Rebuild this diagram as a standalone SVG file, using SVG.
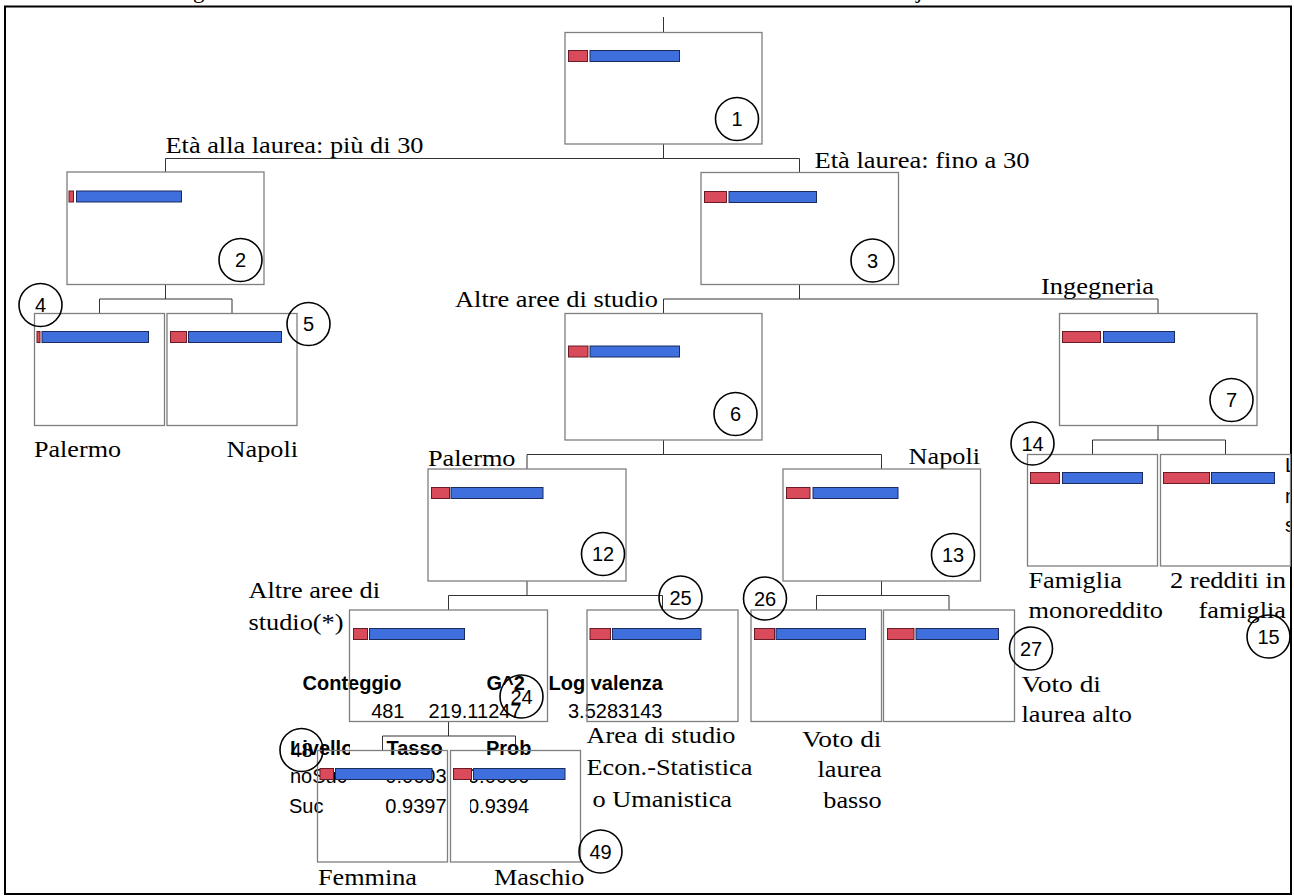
<svg xmlns="http://www.w3.org/2000/svg" width="1294" height="896" viewBox="0 0 1294 896">
<defs>
<style>
.box{fill:none;stroke:#7f7f7f;stroke-width:1.3}
.r{fill:#d94a5a;stroke:#6a1c26;stroke-width:1}
.b{fill:#3f6fdc;stroke:#1b2c5c;stroke-width:1}
.c{fill:none;stroke:#000;stroke-width:1.6}
.cn{font-family:"Liberation Sans",Arial,sans-serif;font-size:20px;text-anchor:middle;fill:#000}
.t{font-family:"Liberation Serif","Times New Roman",serif;font-size:23px;fill:#000}
.th{font-family:"Liberation Sans",Arial,sans-serif;font-size:20px;font-weight:bold;fill:#000}
.tv{font-family:"Liberation Sans",Arial,sans-serif;font-size:20px;fill:#000}
.conn path{fill:none;stroke:#333;stroke-width:1}
</style>
<clipPath id="col1"><rect x="280" y="730" width="70" height="100"/></clipPath>
<clipPath id="col3"><rect x="470" y="730" width="61" height="100"/></clipPath>
<clipPath id="edge"><rect x="1280" y="440" width="10" height="110"/></clipPath>
</defs>
<rect width="1294" height="896" fill="#fff"/>
<text class="t" x="193" y="-2">g</text>
<text class="t" x="916" y="-2">j</text>
<rect x="5" y="6.5" width="1286" height="887.5" fill="none" stroke="#000" stroke-width="2"/>

<g id="connectors" class="conn">
<path d="M663.5,17V32.5"/>
<path d="M663.5,144V158.5M165.5,172V158.5H799.5V172.5"/>
<path d="M165.5,284.5V299M99.5,313.5V299H232V313.5"/>
<path d="M799.5,284.5V299M663.5,313.5V299H1158V313.5"/>
<path d="M663.5,440V454.5M527,469V454.5H881.5V469"/>
<path d="M1158,425.5V440M1092.5,454.5V440H1225.5V454.5"/>
<path d="M527,581V595.5M448.5,610V595.5H662.5V610"/>
<path d="M881.5,581V595.5M816.5,610V595.5H949V610"/>
<path d="M448.5,721.5V736M382.5,750.5V736H515.5V750.5"/>
</g>

<g id="labels">
<text class="t" x="165.5" y="153" textLength="258" lengthAdjust="spacingAndGlyphs">Età alla laurea: più di 30</text>
<text class="t" x="814.5" y="167.5" textLength="215" lengthAdjust="spacingAndGlyphs">Età laurea: fino a 30</text>
<text class="t" x="455" y="307" textLength="203" lengthAdjust="spacingAndGlyphs">Altre aree di studio</text>
<text class="t" x="1041" y="294" textLength="113" lengthAdjust="spacingAndGlyphs">Ingegneria</text>
<text class="t" x="34" y="457" textLength="87" lengthAdjust="spacingAndGlyphs">Palermo</text>
<text class="t" x="226.5" y="457" textLength="71.5" lengthAdjust="spacingAndGlyphs">Napoli</text>
<text class="t" x="428" y="466" textLength="87.5" lengthAdjust="spacingAndGlyphs">Palermo</text>
<text class="t" x="908.5" y="464" textLength="71.5" lengthAdjust="spacingAndGlyphs">Napoli</text>
<text class="t" x="1028.5" y="588" textLength="93.5" lengthAdjust="spacingAndGlyphs">Famiglia</text>
<text class="t" x="1028.5" y="618" textLength="134.5" lengthAdjust="spacingAndGlyphs">monoreddito</text>
<text class="t" x="1170" y="588" textLength="116" lengthAdjust="spacingAndGlyphs">2 redditi in</text>
<text class="t" x="1198.5" y="618" textLength="87.5" lengthAdjust="spacingAndGlyphs">famiglia</text>
<text class="t" x="248.5" y="598" textLength="131.5" lengthAdjust="spacingAndGlyphs">Altre aree di</text>
<text class="t" x="248.5" y="630" textLength="95" lengthAdjust="spacingAndGlyphs">studio(*)</text>
<text class="t" x="586.5" y="743" textLength="149" lengthAdjust="spacingAndGlyphs">Area di studio</text>
<text class="t" x="586.5" y="775" textLength="166" lengthAdjust="spacingAndGlyphs">Econ.-Statistica</text>
<text class="t" x="592.5" y="806.5" textLength="139.5" lengthAdjust="spacingAndGlyphs">o Umanistica</text>
<text class="t" x="802" y="746.5" textLength="79.5" lengthAdjust="spacingAndGlyphs">Voto di</text>
<text class="t" x="817.5" y="776.5" textLength="64.3" lengthAdjust="spacingAndGlyphs">laurea</text>
<text class="t" x="823.3" y="807.5" textLength="58.4" lengthAdjust="spacingAndGlyphs">basso</text>
<text class="t" x="1021.5" y="691.5" textLength="79.5" lengthAdjust="spacingAndGlyphs">Voto di</text>
<text class="t" x="1021.5" y="721.5" textLength="110.3" lengthAdjust="spacingAndGlyphs">laurea alto</text>
<text class="t" x="318" y="885" textLength="99" lengthAdjust="spacingAndGlyphs">Femmina</text>
<text class="t" x="494" y="885" textLength="90.5" lengthAdjust="spacingAndGlyphs">Maschio</text>
<g clip-path="url(#edge)">
<text class="tv" x="1285" y="472">L</text>
<text class="tv" x="1285" y="503">n</text>
<text class="tv" x="1285" y="532">s</text>
</g>
</g>

<g id="table">
<text class="th" x="302.5" y="690">Conteggio</text>
<text class="th" x="486.5" y="690">G^2</text>
<text class="th" x="548.5" y="690">Log valenza</text>
<text class="tv" x="404.5" y="718" text-anchor="end">481</text>
<text class="tv" x="521.5" y="718" text-anchor="end">219.11247</text>
<text class="tv" x="662.5" y="718" text-anchor="end">3.5283143</text>
<g clip-path="url(#col1)">
<text class="th" x="290" y="755">Livello</text>
<text class="tv" x="290" y="783">noSuc</text>
<text class="tv" x="289" y="813">Suc</text>
</g>
<text class="th" x="386.5" y="755">Tasso</text>
<text class="tv" x="446.5" y="783" text-anchor="end">0.0603</text>
<text class="tv" x="446.5" y="813" text-anchor="end">0.9397</text>
<g clip-path="url(#col3)">
<text class="th" x="486" y="755">Prob</text>
<text class="tv" x="468" y="783">0.0606</text>
<text class="tv" x="468" y="813">0.9394</text>
</g>
</g>

<g id="n1"><rect class="box" x="565" y="32.5" width="197" height="111.5"/><rect class="r" x="568.5" y="50.5" width="19" height="11"/><rect class="b" x="590" y="50.5" width="89.5" height="11"/><circle class="c" cx="737" cy="119" r="21.5"/><text class="cn" x="737" y="126">1</text></g>
<g id="n2"><rect class="box" x="67" y="172" width="197" height="112.5"/><rect class="r" x="69" y="191" width="4.5" height="11"/><rect class="b" x="76.5" y="191" width="105" height="11"/><circle class="c" cx="240.5" cy="260" r="21.5"/><text class="cn" x="240.5" y="267">2</text></g>
<g id="n3"><rect class="box" x="701" y="172.5" width="197.5" height="112"/><rect class="r" x="704.5" y="191.5" width="22" height="11"/><rect class="b" x="729" y="191.5" width="87.5" height="11"/><circle class="c" cx="872.5" cy="260.5" r="21.5"/><text class="cn" x="872.5" y="267.5">3</text></g>
<g id="n4"><rect class="box" x="34.5" y="313.5" width="130" height="112"/><rect class="r" x="37" y="331.5" width="3" height="11"/><rect class="b" x="42" y="331.5" width="106.5" height="11"/><circle class="c" cx="40.5" cy="305" r="21.5"/><text class="cn" x="40.5" y="312">4</text></g>
<g id="n5"><rect class="box" x="167" y="313.5" width="130" height="112"/><rect class="r" x="170.5" y="331.5" width="16" height="11"/><rect class="b" x="188.5" y="331.5" width="93" height="11"/><circle class="c" cx="308.5" cy="324" r="21.5"/><text class="cn" x="308.5" y="331">5</text></g>
<g id="n6"><rect class="box" x="565" y="313.5" width="197" height="126.5"/><rect class="r" x="568.5" y="346" width="19.5" height="11"/><rect class="b" x="590" y="346" width="89.5" height="11"/><circle class="c" cx="735.5" cy="414" r="21.5"/><text class="cn" x="735.5" y="421">6</text></g>
<g id="n7"><rect class="box" x="1059.5" y="313.5" width="197.5" height="112"/><rect class="r" x="1062.5" y="331.5" width="38" height="11"/><rect class="b" x="1103.5" y="331.5" width="71" height="11"/><circle class="c" cx="1231.5" cy="400" r="21.5"/><text class="cn" x="1231.5" y="407">7</text></g>
<g id="n12"><rect class="box" x="428" y="469" width="198" height="112"/><rect class="r" x="431.5" y="487.5" width="18" height="11"/><rect class="b" x="451" y="487.5" width="92" height="11"/><circle class="c" cx="603" cy="554" r="21.5"/><text class="cn" x="603" y="561">12</text></g>
<g id="n13"><rect class="box" x="783" y="469" width="197.5" height="112"/><rect class="r" x="786.5" y="487.5" width="23.5" height="11"/><rect class="b" x="813" y="487.5" width="85" height="11"/><circle class="c" cx="953" cy="555" r="21.5"/><text class="cn" x="953" y="562">13</text></g>
<g id="n14"><rect class="box" x="1027.5" y="454.5" width="130" height="111.5"/><rect class="r" x="1030.5" y="472.5" width="29" height="11"/><rect class="b" x="1062.5" y="472.5" width="80" height="11"/><circle class="c" cx="1032.5" cy="443.5" r="21.5"/><text class="cn" x="1032.5" y="450.5">14</text></g>
<g id="n15"><rect class="box" x="1160.5" y="454.5" width="130" height="111.5"/><rect class="r" x="1163.5" y="472.5" width="46" height="11"/><rect class="b" x="1211.5" y="472.5" width="63" height="11"/><circle class="c" cx="1268.5" cy="636.5" r="21.5"/><text class="cn" x="1268.5" y="643.5">15</text></g>
<g id="n24"><rect class="box" x="349.5" y="610" width="198" height="111.5"/><rect class="r" x="353.5" y="628.5" width="14" height="11"/><rect class="b" x="369.5" y="628.5" width="95" height="11"/><circle class="c" cx="521.5" cy="696.5" r="21.5"/><text class="cn" x="521.5" y="703.5">24</text></g>
<g id="n25"><rect class="box" x="587" y="610" width="151" height="111.5"/><rect class="r" x="590" y="628.5" width="20.5" height="11"/><rect class="b" x="612.5" y="628.5" width="88.5" height="11"/><circle class="c" cx="680.5" cy="597.5" r="21.5"/><text class="cn" x="680.5" y="604.5">25</text></g>
<g id="n26"><rect class="box" x="751" y="610" width="130.5" height="111.5"/><rect class="r" x="754.5" y="628.5" width="20" height="11"/><rect class="b" x="776" y="628.5" width="89.5" height="11"/><circle class="c" cx="765" cy="598.5" r="21.5"/><text class="cn" x="765" y="605.5">26</text></g>
<g id="n27"><rect class="box" x="883.5" y="610" width="131" height="111.5"/><rect class="r" x="887.5" y="628.5" width="26.5" height="11"/><rect class="b" x="916" y="628.5" width="82.5" height="11"/><circle class="c" cx="1031" cy="648.5" r="21.5"/><text class="cn" x="1031" y="655.5">27</text></g>
<g id="n48"><rect class="box" x="317.5" y="750.5" width="130" height="111.5"/><rect class="r" x="320" y="768.5" width="13.5" height="11"/><rect class="b" x="335.5" y="768.5" width="96.5" height="11"/><circle class="c" cx="301.5" cy="750" r="21.5"/><text class="cn" x="301.5" y="757">48</text></g>
<g id="n49"><rect class="box" x="450.5" y="750.5" width="130" height="111.5"/><rect class="r" x="453.5" y="768.5" width="18" height="11"/><rect class="b" x="473.5" y="768.5" width="91.5" height="11"/><circle class="c" cx="600.5" cy="851.5" r="21.5"/><text class="cn" x="600.5" y="858.5">49</text></g>
</svg>
